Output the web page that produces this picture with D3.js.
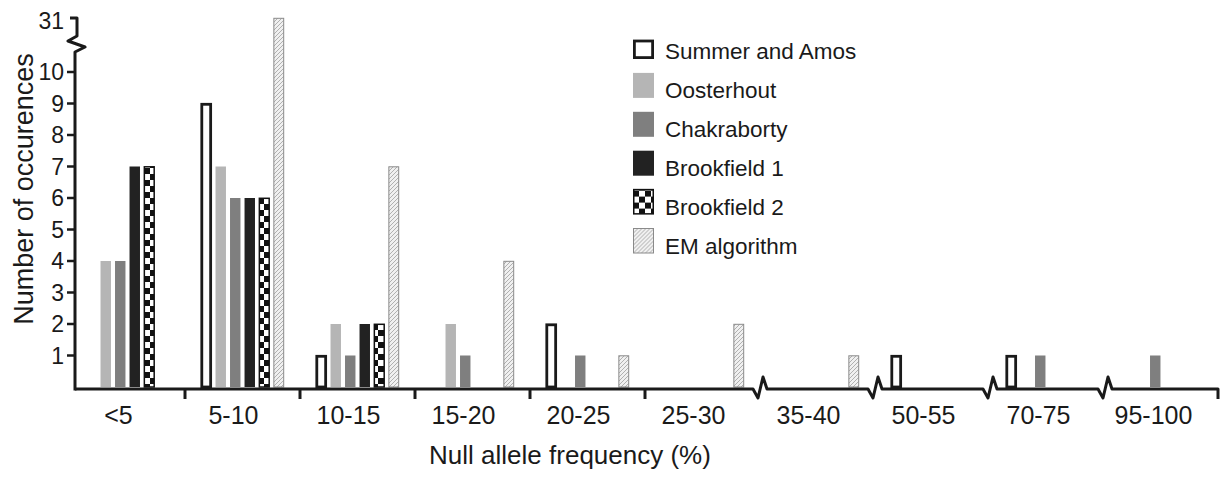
<!DOCTYPE html>
<html>
<head>
<meta charset="utf-8">
<script src="https://cdn.jsdelivr.net/npm/d3@7"></script>
<style>
  body { margin: 0; background: #fff; }
  text { font-family: "Liberation Sans", Arial, Helvetica, sans-serif; fill: #1a1a1a; }
</style>
</head>
<body>
<div id="drawing"></div>
<script>
// data
const categories = ["<5", "5-10", "10-15", "15-20", "20-25", "25-30", "35-40", "50-55", "70-75", "95-100"];
const series = ["Summer and Amos", "Oosterhout", "Chakraborty", "Brookfield 1", "Brookfield 2", "EM algorithm"];
const summerAmos  = [0, 9, 1, 0, 2, 0, 0, 1, 1, 0];
const oosterhout  = [4, 7, 2, 2, 0, 0, 0, 0, 0, 0];
const chakraborty = [4, 6, 1, 1, 1, 0, 0, 0, 1, 1];
const brookfield1 = [7, 6, 2, 0, 0, 0, 0, 0, 0, 0];
const brookfield2 = [7, 6, 2, 0, 0, 0, 0, 0, 0, 0];
const emAlgorithm = [0, 31, 7, 4, 1, 2, 1, 0, 0, 0];
const yTicks = [1, 2, 3, 4, 5, 6, 7, 8, 9, 10, 31];
// categories that come after a break in the x axis
const brokenBefore = ["35-40", "50-55", "70-75", "95-100"];

const values = [summerAmos, oosterhout, chakraborty, brookfield1, brookfield2, emAlgorithm];

const width = 1222;
const height = 477;
const ink = "#1a1a1a";
let svg;

// look of each series
const looks = {
  "Summer and Amos": {fill: "#fff", stroke: ink, sw: 2.8, inset: 0.8, legendH: 18},
  "Oosterhout":      {fill: "#b5b5b5", stroke: "none", sw: 0, inset: 0, legendH: 25},
  "Chakraborty":     {fill: "#7f7f7f", stroke: "none", sw: 0, inset: 0, legendH: 25},
  "Brookfield 1":    {fill: "#222", stroke: "none", sw: 0, inset: 0, legendH: 25},
  "Brookfield 2":    {fill: "url(#checker)", stroke: "#111", sw: 1.5, inset: 0.3, legendH: 25},
  "EM algorithm":    {fill: "url(#hatch)", stroke: "#8a8a8a", sw: 1, inset: 0.3, legendH: 25}
};

// y has a broken axis: 0-10 linear, then jump to 31
const y = d3.scaleLinear().domain([0, 10, 31]).range([387, 72, 18]);
const x0 = d3.scaleBand().domain(categories).range([70, 1220]);
const x1 = d3.scaleBand().domain(series).range([16, 99]).paddingInner(0.28);

function setup(){
  svg = d3.select("#drawing").append("svg")
    .attr("width", width)
    .attr("height", height)
    .style("background", "#fff");

  const defs = svg.append("defs");

  const checker = defs.append("pattern")
    .attr("id", "checker")
    .attr("patternUnits", "userSpaceOnUse")
    .attr("width", 12).attr("height", 12);
  checker.append("rect").attr("width", 12).attr("height", 12).attr("fill", "#fff");
  checker.append("rect").attr("width", 6).attr("height", 6).attr("fill", "#111");
  checker.append("rect").attr("x", 6).attr("y", 6).attr("width", 6).attr("height", 6).attr("fill", "#111");

  const hatch = defs.append("pattern")
    .attr("id", "hatch")
    .attr("patternUnits", "userSpaceOnUse")
    .attr("width", 4).attr("height", 4);
  hatch.append("rect").attr("width", 4).attr("height", 4).attr("fill", "#f0f0f0");
  hatch.append("path")
    .attr("d", "M-1,1 l2,-2 M0,4 l4,-4 M3,5 l2,-2")
    .attr("stroke", "#a0a0a0")
    .attr("stroke-width", 0.8);
}

function make(){
  // bars
  const rows = [];
  categories.forEach((c, i) => {
    series.forEach((s, j) => {
      if (values[j][i] > 0) rows.push({cat: c, s: s, v: values[j][i]});
    });
  });

  svg.append("g").selectAll("rect")
    .data(rows)
    .enter()
    .append("rect")
      .attr("x", d => x0(d.cat) + x1(d.s) + looks[d.s].inset)
      .attr("y", d => y(d.v) + looks[d.s].inset)
      .attr("width", d => x1.bandwidth() - 2 * looks[d.s].inset)
      .attr("height", d => y(0) - y(d.v) - looks[d.s].inset)
      .attr("fill", d => looks[d.s].fill)
      .attr("stroke", d => looks[d.s].stroke)
      .attr("stroke-width", d => looks[d.s].sw);

  // x axis with breaks
  const base = 389;
  const x0End = x0.range()[1] - 2;
  let p = `M75,${base}`;
  const ticks = [];
  categories.slice(1).forEach(c => {
    const b = x0(c);
    if (brokenBefore.includes(c)) {
      p += ` L${b - 7},${base} L${b - 2},${base + 9} L${b + 3},${base - 12} L${b + 7},${base}`;
    } else {
      ticks.push(b);
    }
  });
  p += ` L${x0End},${base} V${base + 10}`;

  const axis = svg.append("g");
  axis.append("path")
    .attr("d", p)
    .attr("fill", "none")
    .attr("stroke", ink)
    .attr("stroke-width", 3)
    .attr("stroke-linejoin", "round");
  axis.selectAll(".xtick")
    .data(ticks)
    .enter()
    .append("line")
      .attr("x1", d => d).attr("x2", d => d)
      .attr("y1", base).attr("y2", base + 10)
      .attr("stroke", ink)
      .attr("stroke-width", 3);

  axis.selectAll(".xlab")
    .data(categories)
    .enter()
    .append("text")
      .attr("x", d => x0(d) + x0.bandwidth() / 2 - 9)
      .attr("y", 424)
      .attr("text-anchor", "middle")
      .style("font-size", "25px")
      .text(d => d);

  svg.append("text")
    .attr("x", 570)
    .attr("y", 464)
    .attr("text-anchor", "middle")
    .style("font-size", "26px")
    .text("Null allele frequency (%)");

  // y axis with break between 10 and 31
  svg.append("path")
    .attr("d", `M75,${base + 1.5} V52 L85,47 L68,41 L77,36 V${y(31)} H70`)
    .attr("fill", "none")
    .attr("stroke", ink)
    .attr("stroke-width", 3)
    .attr("stroke-linejoin", "round");

  const yt = svg.append("g");
  yt.selectAll("line")
    .data(yTicks.filter(d => d <= 10))
    .enter()
    .append("line")
      .attr("x1", 67).attr("x2", 75)
      .attr("y1", d => y(d)).attr("y2", d => y(d))
      .attr("stroke", ink)
      .attr("stroke-width", 2.5);
  yt.selectAll("text")
    .data(yTicks)
    .enter()
    .append("text")
      .attr("x", 64)
      .attr("y", d => y(d) + (d > 10 ? 3 : 0))
      .attr("dy", "0.36em")
      .attr("text-anchor", "end")
      .style("font-size", "23px")
      .text(d => d);

  svg.append("text")
    .attr("transform", "translate(33,189) rotate(-90)")
    .attr("text-anchor", "middle")
    .style("font-size", "27px")
    .text("Number of occurences");

  // legend
  const legend = svg.append("g").selectAll("g")
    .data(series)
    .enter()
    .append("g")
      .attr("transform", (d, i) => `translate(633, ${59 + 38.9 * i})`);
  legend.append("rect")
    .attr("x", d => looks[d].sw / 2)
    .attr("y", d => -looks[d].legendH)
    .attr("width", d => 21 - looks[d].sw)
    .attr("height", d => looks[d].legendH - looks[d].sw / 2)
    .attr("fill", d => looks[d].fill)
    .attr("stroke", d => looks[d].stroke)
    .attr("stroke-width", d => looks[d].sw);
  legend.append("text")
    .attr("x", 32)
    .attr("y", 0)
    .style("font-size", "22.5px")
    .text(d => d);
}

setup();
make();
</script>
</body>
</html>
